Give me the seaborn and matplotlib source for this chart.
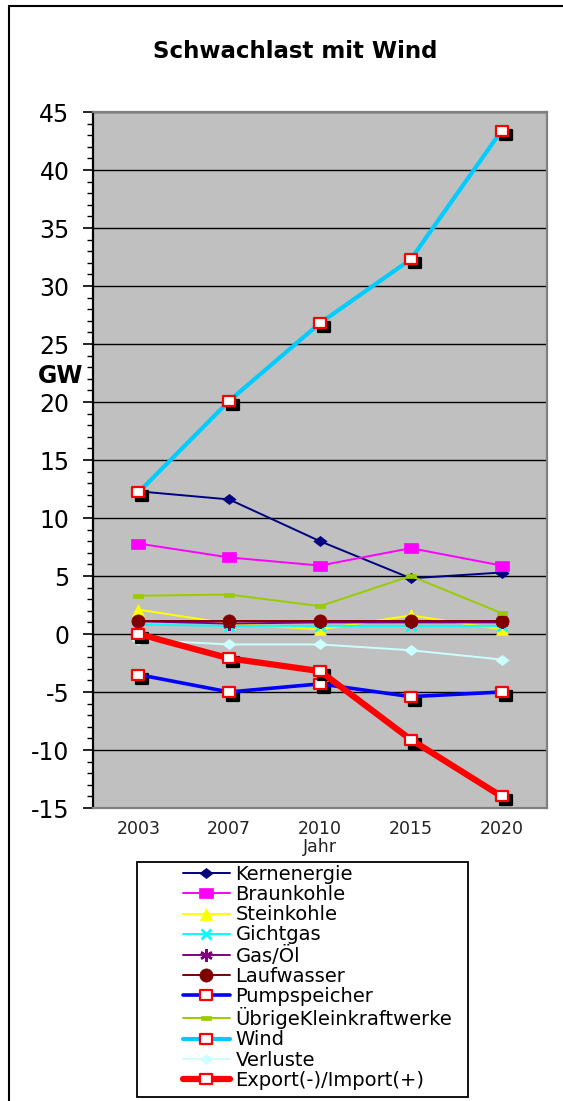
import pandas as pd
import matplotlib
matplotlib.use("Agg")
import matplotlib.pyplot as plt
import matplotlib.transforms as mtransforms
from matplotlib.path import Path
from matplotlib.ticker import MultipleLocator
from matplotlib.patches import Rectangle
from matplotlib.lines import Line2D
import seaborn as sns

# Daten (GW)
jahre = ["2003", "2007", "2010", "2015", "2020"]

kernenergie = [12.3, 11.6, 8.0, 4.8, 5.3]
braunkohle = [7.8, 6.6, 5.9, 7.4, 5.9]
steinkohle = [2.1, 0.9, 0.4, 1.6, 0.4]
gichtgas = [0.8, 0.7, 0.7, 0.7, 0.7]
gas_oel = [1.1, 0.9, 1.0, 1.0, 1.0]
laufwasser = [1.1, 1.1, 1.1, 1.1, 1.1]
pumpspeicher = [-3.5, -5.0, -4.3, -5.4, -5.0]
uebrige = [3.3, 3.4, 2.4, 5.0, 1.8]
wind = [12.2, 20.1, 26.8, 32.3, 43.4]
verluste = [-0.5, -0.9, -0.9, -1.4, -2.2]
export_import = [0.0, -2.1, -3.2, -9.1, -14.0]

reihen = [
    ("Kernenergie", kernenergie),
    ("Braunkohle", braunkohle),
    ("Steinkohle", steinkohle),
    ("Gichtgas", gichtgas),
    ("Gas/Öl", gas_oel),
    ("Laufwasser", laufwasser),
    ("Pumpspeicher", pumpspeicher),
    ("ÜbrigeKleinkraftwerke", uebrige),
    ("Wind", wind),
    ("Verluste", verluste),
    ("Export(-)/Import(+)", export_import),
]

# Excel-Marker sind etwas in die Breite gezogen
rechteck = Path([(-0.65, -0.5), (0.65, -0.5), (0.65, 0.5), (-0.65, 0.5), (-0.65, -0.5)],
                [Path.MOVETO, Path.LINETO, Path.LINETO, Path.LINETO, Path.CLOSEPOLY])
raute = Path([(-0.65, 0), (0, -0.5), (0.65, 0), (0, 0.5), (-0.65, 0)],
             [Path.MOVETO, Path.LINETO, Path.LINETO, Path.LINETO, Path.CLOSEPOLY])
strich = Path([(-0.65, -0.25), (0.65, -0.25), (0.65, 0.25), (-0.65, 0.25), (-0.65, -0.25)],
              [Path.MOVETO, Path.LINETO, Path.LINETO, Path.LINETO, Path.CLOSEPOLY])

stil = {
    "Kernenergie": dict(color="#000080", lw=1.4, marker=raute, ms=9.5, mfc="#000080", mec="#000080", mew=0.5),
    "Braunkohle": dict(color="#FF00FF", lw=1.4, marker=rechteck, ms=10, mfc="#FF00FF", mec="#FF00FF", mew=0.5),
    "Steinkohle": dict(color="#FFFF00", lw=1.4, marker="^", ms=9, mfc="#FFFF00", mec="#FFFF00", mew=0.5),
    "Gichtgas": dict(color="#00FFFF", lw=1.4, marker="x", ms=7.5, mfc="#00FFFF", mec="#00FFFF", mew=2.0),
    "Gas/Öl": dict(color="#800080", lw=1.4, marker=(6, 2, 0), ms=9, mfc="#800080", mec="#800080", mew=1.8),
    "Laufwasser": dict(color="#800000", lw=1.4, marker="o", ms=9.5, mfc="#800000", mec="#800000", mew=0.5),
    "Pumpspeicher": dict(color="#0000FF", lw=2.6, marker=rechteck, ms=8.5, mfc="white", mec="#FF0000", mew=1.6, schatten=True),
    "ÜbrigeKleinkraftwerke": dict(color="#99CC00", lw=1.4, marker=strich, ms=7, mfc="#99CC00", mec="#99CC00", mew=0.5),
    "Wind": dict(color="#00CCFF", lw=3.0, marker=rechteck, ms=8.5, mfc="white", mec="#FF0000", mew=1.6, schatten=True),
    "Verluste": dict(color="#CCFFFF", lw=1.4, marker=raute, ms=9.5, mfc="#CCFFFF", mec="#CCFFFF", mew=0.5),
    "Export(-)/Import(+)": dict(color="#FF0000", lw=4.5, marker=rechteck, ms=8.5, mfc="white", mec="#FF0000", mew=1.6, schatten=True),
}

sns.set_theme(style="white")
plt.rcParams["font.family"] = ["DejaVu Sans"]
plt.rcParams["axes.unicode_minus"] = False
plt.rcParams["text.color"] = "black"
plt.rcParams["axes.labelcolor"] = "black"
plt.rcParams["xtick.color"] = "black"
plt.rcParams["ytick.color"] = "black"

W, H = 563, 1101
fig = plt.figure(figsize=(W / 100, H / 100), dpi=100)
ax = fig.add_axes([93 / W, 1 - 808 / H, (547 - 93) / W, (808 - 112) / H])
ax.set_facecolor("#C0C0C0")

schatten_tr = mtransforms.offset_copy(ax.transData, fig=fig, x=4, y=-4, units="dots")

for i, (name, werte) in enumerate(reihen):
    st = dict(stil[name])
    schatten = st.pop("schatten", False)
    df = pd.DataFrame({"Jahr": jahre, "GW": werte})
    z = 3 + i
    if schatten:
        sns.lineplot(data=df, x="Jahr", y="GW", ax=ax, linestyle="", marker=st["marker"],
                     ms=st["ms"], mfc="black", mec="black", mew=st["mew"],
                     transform=schatten_tr, zorder=z, legend=False)
    sns.lineplot(data=df, x="Jahr", y="GW", ax=ax, color=st["color"], lw=st["lw"],
                 marker=st["marker"], ms=st["ms"], mfc=st["mfc"], mec=st["mec"],
                 mew=st["mew"], zorder=z + 0.5, legend=False)

ax.set_xlim(-0.5, 4.5)
ax.set_ylim(-15, 45)
ax.yaxis.set_major_locator(MultipleLocator(5))
ax.yaxis.set_minor_locator(MultipleLocator(1))
ax.grid(axis="y", which="major", color="black", lw=1.0)
ax.grid(axis="x", visible=False)
ax.set_axisbelow(True)

for s in ["top", "right", "bottom"]:
    ax.spines[s].set_color("#808080")
    ax.spines[s].set_linewidth(1.6)
ax.spines["left"].set_color("black")
ax.spines["left"].set_linewidth(1.6)

ax.tick_params(axis="y", which="major", direction="out", length=7, width=1.2,
               labelsize=17, pad=10, left=True)
ax.tick_params(axis="y", which="minor", direction="out", length=4, width=1.0, left=True)
ax.tick_params(axis="x", length=0, labelsize=12.5, pad=9, labelcolor="#222222")

ax.set_ylabel("")
ax.set_xlabel("Jahr", fontsize=12.5, labelpad=0, color="#222222")

fig.text(295 / W, 1 - 51 / H, "Schwachlast mit Wind", ha="center", va="center",
         fontsize=16.5, fontweight="bold")
fig.text(61 / W, 1 - 376 / H, "GW", ha="center", va="center",
         fontsize=17, fontweight="bold")

# Legende
handles = []
for name, _ in reihen:
    st = stil[name]
    handles.append(Line2D([], [], color=st["color"], lw=st["lw"], marker=st["marker"],
                          ms=st["ms"], mfc=st["mfc"], mec=st["mec"], mew=st["mew"]))
fig.legend(handles, [n for n, _ in reihen], loc="upper left",
           bbox_to_anchor=(183 / W, 1 - 865 / H), frameon=False, fontsize=14,
           handlelength=2.4, handletextpad=0.3, labelspacing=0.06,
           borderpad=0, borderaxespad=0, numpoints=1)
fig.add_artist(Rectangle((137 / W, 1 - 1097 / H), (468 - 137) / W, (1097 - 862) / H,
                         transform=fig.transFigure, fill=False, ec="black", lw=1.3))

# Rahmen um das Diagramm
fig.add_artist(Line2D([9 / W, 9 / W], [0, 1 - 6 / H], transform=fig.transFigure, color="black", lw=1.5))
fig.add_artist(Line2D([9 / W, 1], [1 - 6 / H, 1 - 6 / H], transform=fig.transFigure, color="black", lw=1.5))

fig.savefig("out.png", dpi=100)
